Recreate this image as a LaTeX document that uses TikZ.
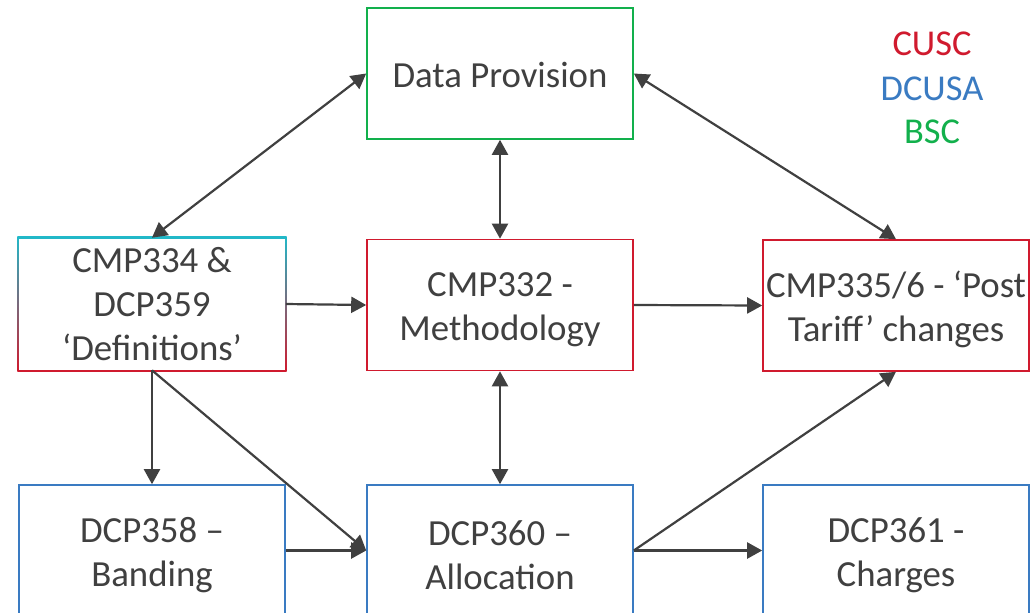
\documentclass[tikz,border=0pt]{standalone}
\usepackage{fontspec}
\setmainfont{Carlito}
\usetikzlibrary{arrows.meta,backgrounds}
\definecolor{cred}{HTML}{D01A2E}
\definecolor{cblue}{HTML}{3A7BC2}
\definecolor{cgreen}{HTML}{12B04C}
\definecolor{ccyan}{HTML}{22B8C8}
\definecolor{ctext}{HTML}{404040}
\newcommand\mystrut[1]{\rule{0pt}{#1}}
\tikzset{
  box/.style={rectangle, minimum width=133pt, minimum height=65.5pt, align=center,
    inner sep=0pt, text=ctext, font=\fontsize{18.4}{22}\selectfont, line width=0.8pt},
  redbox/.style={box, draw=cred},
  bluebox/.style={box, draw=cblue},
  greenbox/.style={box, draw=cgreen},
  conn/.style={draw=ctext, line width=1.1pt, -{Triangle[length=7.5pt,width=8pt]}},
  bconn/.style={conn, {Triangle[length=7.5pt,width=8pt]}-{Triangle[length=7.5pt,width=8pt]}},
  legend/.style={font=\fontsize{18.2}{20}\selectfont, inner sep=0pt}
}
\begin{document}
\begin{tikzpicture}[x=0.5pt,y=-0.5pt]
\begin{scope}[on background layer]
\fill[white] (0,0) rectangle (1030,612);
\end{scope}
\useasboundingbox (0,0) rectangle (1030,612);
\node[greenbox] (dp) at (500,73.5) {\mystrut{13.8pt}Data Provision};
\node[box] (def) at (152,304) {\mystrut{13pt}CMP334 \&\\DCP359\\‘Definitions’};
\node[redbox] (meth) at (500,305) {\mystrut{17pt}CMP332 -\\Methodology};
\node[redbox] (post) at (896,305.5) {\mystrut{17.5pt}CMP335/6 - ‘Post\\Tariff’ changes};
\node[bluebox] (band) at (152,550.5) {\mystrut{17pt}DCP358 –\\Banding};
\node[bluebox] (alloc) at (500,550.5) {\mystrut{17pt}DCP360 –\\Allocation};
\node[bluebox] (chg) at (896,550.5) {\mystrut{17pt}DCP361 -\\Charges};
\begin{scope}[on background layer]
  \shade[top color=ccyan, bottom color=cred] ([xshift=-0.4pt,yshift=0.4pt]def.north west) rectangle ([xshift=0.4pt,yshift=-0.4pt]def.south east);
  \fill[white] ([xshift=0.4pt,yshift=-0.4pt]def.north west) rectangle ([xshift=-0.4pt,yshift=0.4pt]def.south east);
\end{scope}
\node[legend, text=cred] (l1) at (932,44) {CUSC};
\node[legend, text=cblue] (l2) at (932,89) {DCUSA};
\node[legend, text=cgreen] (l3) at (932,132) {BSC};
\draw[bconn] (dp.west) -- (def.north);
\draw[bconn] (dp.south) -- (meth.north);
\draw[bconn] (dp.east) -- (post.north);
\draw[conn] (def.east) -- (meth.west);
\draw[conn] (meth.east) -- (post.west);
\draw[bconn] (meth.south) -- (alloc.north);
\draw[conn] (def.south) -- (band.north);
\draw[conn] (def.south) -- (alloc.west);
\draw[conn] (band.east) -- (alloc.west);
\draw[conn] (alloc.east) -- (chg.west);
\draw[conn] (alloc.east) -- (post.south);
\end{tikzpicture}
\end{document}
